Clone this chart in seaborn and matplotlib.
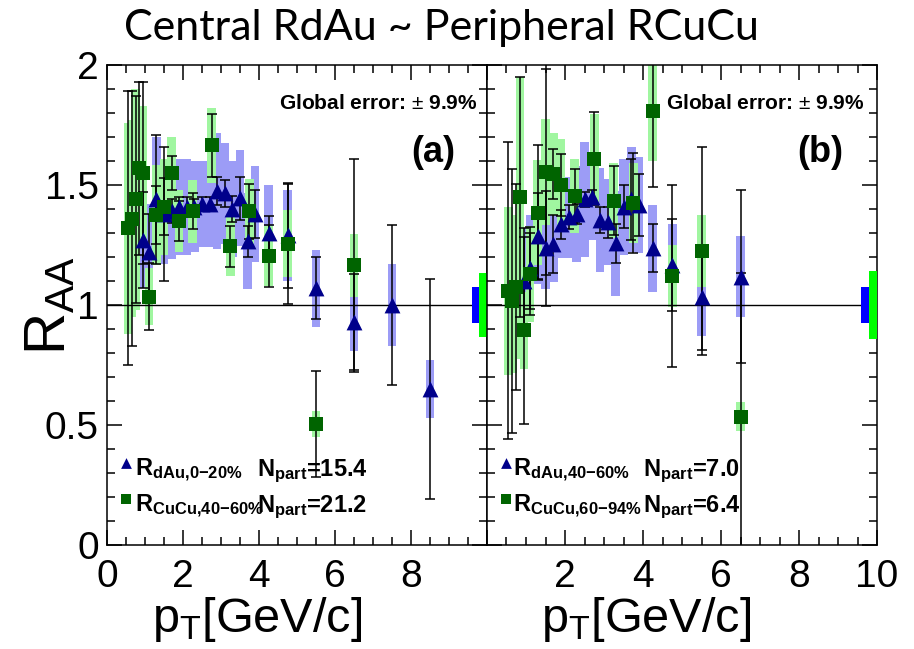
import numpy as np
import pandas as pd
import matplotlib
matplotlib.use("Agg")
import matplotlib.pyplot as plt
import seaborn as sns
from matplotlib.ticker import MultipleLocator, FixedLocator

# ---------------- data ----------------
# Panel (a): RdAu 0-20% (blue triangles)
a_dau_pt = [0.95, 1.1, 1.3, 1.5, 1.7, 1.9, 2.1, 2.3, 2.5, 2.7, 2.9, 3.1, 3.3, 3.5, 3.7, 3.9, 4.25, 4.75, 5.5, 6.5, 7.5, 8.5]
a_dau_r = [1.27, 1.22, 1.44, 1.38, 1.39, 1.41, 1.41, 1.41, 1.42, 1.42, 1.475, 1.465, 1.40, 1.445, 1.265, 1.38, 1.30, 1.29, 1.07, 0.93, 1.00, 0.65]
a_dau_stat = [0.20, 0.16, 0.27, 0.28, 0.05, 0.04, 0.04, 0.03, 0.03, 0.03, 0.06, 0.055, 0.055, 0.09, 0.065, 0.10, 0.07, 0.22, 0.13, 0.20, 0.335, 0.46]
a_dau_sys = [0.20, 0.20, 0.26, 0.21, 0.20, 0.20, 0.20, 0.19, 0.18, 0.18, 0.24, 0.21, 0.20, 0.20, 0.20, 0.20, 0.20, 0.19, 0.16, 0.12, 0.17, 0.12]
# Panel (a): RCuCu 40-60% (green squares)
a_cu_pt = [0.55, 0.65, 0.75, 0.85, 0.95, 1.1, 1.3, 1.5, 1.7, 1.9, 2.25, 2.75, 3.25, 3.75, 4.25, 4.75, 5.5, 6.5]
a_cu_r = [1.32, 1.36, 1.44, 1.57, 1.55, 1.035, 1.375, 1.41, 1.55, 1.35, 1.39, 1.665, 1.245, 1.39, 1.205, 1.255, 0.505, 1.165]
a_cu_stat = [0.57, 0.53, 0.43, 0.36, 0.38, 0.14, 0.12, 0.12, 0.07, 0.085, 0.075, 0.13, 0.085, 0.115, 0.13, 0.25, 0.22, 0.445]
a_cu_sys = [0.44, 0.41, 0.46, 0.26, 0.28, 0.12, 0.21, 0.20, 0.15, 0.13, 0.13, 0.155, 0.125, 0.135, 0.125, 0.14, 0.055, 0.13]

# Panel (b): RdAu 40-60%
b_dau_pt = [0.95, 1.1, 1.3, 1.5, 1.7, 1.9, 2.1, 2.3, 2.5, 2.7, 2.9, 3.1, 3.3, 3.5, 3.7, 3.9, 4.25, 4.75, 5.5, 6.5]
b_dau_r = [1.10, 1.155, 1.287, 1.236, 1.255, 1.337, 1.365, 1.379, 1.44, 1.45, 1.354, 1.345, 1.257, 1.41, 1.44, 1.417, 1.236, 1.167, 1.032, 1.118]
b_dau_stat = [0.22, 0.17, 0.18, 0.24, 0.12, 0.06, 0.05, 0.04, 0.03, 0.03, 0.055, 0.065, 0.08, 0.09, 0.17, 0.13, 0.10, 0.19, 0.22, 0.36]
b_dau_sys = [0.22, 0.22, 0.20, 0.17, 0.16, 0.14, 0.17, 0.20, 0.24, 0.18, 0.215, 0.18, 0.22, 0.20, 0.22, 0.20, 0.18, 0.17, 0.16, 0.17]
# Panel (b): RCuCu 60-94%
b_cu_pt = [0.55, 0.65, 0.75, 0.85, 0.95, 1.1, 1.3, 1.5, 1.7, 1.9, 2.25, 2.75, 3.25, 3.75, 4.25, 4.75, 5.5, 6.5]
b_cu_r = [1.06, 1.015, 1.075, 1.45, 0.895, 1.13, 1.385, 1.555, 1.545, 1.50, 1.455, 1.61, 1.435, 1.425, 1.81, 1.12, 1.225, 0.535]
b_cu_stat = [0.62, 0.55, 0.43, 0.50, 0.39, 0.17, 0.28, 0.43, 0.105, 0.13, 0.11, 0.195, 0.145, 0.21, 0.32, 0.38, 0.435, 0.60]
b_cu_sys = [0.35, 0.30, 0.30, 0.50, 0.16, 0.20, 0.22, 0.22, 0.17, 0.19, 0.155, 0.185, 0.155, 0.165, 0.21, 0.13, 0.15, 0.06]

# global normalisation errors (blue = dAu, green = CuCu)
a_global = [0.073, 0.135]
b_global = [0.073, 0.14]

title_text = "Central RdAu ~ Peripheral RCuCu"
global_text = "Global error: $\\pm$ 9.9%"
a_labels = [r"$\mathbf{R}_{\mathbf{dAu{,}0{-}20\%}}$", r"$\mathbf{R}_{\mathbf{CuCu{,}40{-}60\%}}$"]
a_npart = [r"$\mathbf{N}_{\mathbf{part}}$=15.4", r"$\mathbf{N}_{\mathbf{part}}$=21.2"]
b_labels = [r"$\mathbf{R}_{\mathbf{dAu{,}40{-}60\%}}$", r"$\mathbf{R}_{\mathbf{CuCu{,}60{-}94\%}}$"]
b_npart = [r"$\mathbf{N}_{\mathbf{part}}$=7.0", r"$\mathbf{N}_{\mathbf{part}}$=6.4"]

# ---------------- style ----------------
sns.set_theme(style="ticks")
plt.rcParams["font.family"] = ["Liberation Sans", "DejaVu Sans"]
plt.rcParams["mathtext.fontset"] = "custom"
plt.rcParams["mathtext.rm"] = "Liberation Sans"
plt.rcParams["mathtext.bf"] = "Liberation Sans:bold"
plt.rcParams["mathtext.it"] = "Liberation Sans:italic"
plt.rcParams["mathtext.sf"] = "Liberation Sans"
plt.rcParams["text.color"] = "black"
plt.rcParams["xtick.color"] = "black"
plt.rcParams["ytick.color"] = "black"
plt.rcParams["xtick.labelcolor"] = "black"
plt.rcParams["ytick.labelcolor"] = "black"
plt.rcParams["axes.labelcolor"] = "black"

TRI = "#00008b"
SQ = "#006400"
BOX_BLUE = "#9c9cf6"
BOX_GREEN = "#a0f6a0"

fig = plt.figure(figsize=(9.14, 6.49), dpi=100)
W, H = 914, 649
axA = fig.add_axes([107 / W, 104 / H, 380 / W, 480 / H])
axB = fig.add_axes([487 / W, 104 / H, 390 / W, 480 / H])


def draw_panel(ax, dpt, dr, dst, dsy, cpt, cr, cst, csy, glob):
    dpt, dr, dst, dsy = map(np.asarray, (dpt, dr, dst, dsy))
    cpt, cr, cst, csy = map(np.asarray, (cpt, cr, cst, csy))
    ax.bar(dpt, 2 * dsy, bottom=dr - dsy, width=0.22, color=BOX_BLUE, linewidth=0, zorder=1)
    ax.bar(cpt, 2 * csy, bottom=cr - csy, width=0.22, color=BOX_GREEN, linewidth=0, zorder=2)
    ax.axhline(1, color="black", lw=1.0, zorder=3)
    ax.errorbar(dpt, dr, yerr=dst, fmt="none", ecolor="black", elinewidth=1.1,
                capsize=3.5, capthick=1.1, zorder=4)
    ax.errorbar(cpt, cr, yerr=cst, fmt="none", ecolor="black", elinewidth=1.1,
                capsize=3.5, capthick=1.1, zorder=4)
    sns.scatterplot(x=dpt, y=dr, marker="^", s=130, color=TRI, edgecolor=TRI,
                    linewidth=0, ax=ax, zorder=5)
    sns.scatterplot(x=cpt, y=cr, marker="s", s=110, color=SQ, edgecolor=SQ,
                    linewidth=0, ax=ax, zorder=6)
    # global error boxes
    ax.bar([9.7], [2 * glob[0]], bottom=1 - glob[0], width=0.2, color="#0000ff", linewidth=0, zorder=3)
    ax.bar([9.9], [2 * glob[1]], bottom=1 - glob[1], width=0.2, color="#00ff00", linewidth=0, zorder=3)

    ax.set_xlim(0, 10)
    ax.set_ylim(0, 2)
    ax.xaxis.set_minor_locator(MultipleLocator(0.5))
    ax.yaxis.set_minor_locator(MultipleLocator(0.1))
    ax.yaxis.set_major_locator(MultipleLocator(0.5))
    ax.tick_params(which="both", direction="in", top=True, right=True, width=1.1, colors="black")
    ax.tick_params(which="major", length=11)
    ax.tick_params(which="minor", length=5.5)
    ax.tick_params(axis="x", labelsize=28, pad=10)
    ax.tick_params(axis="y", labelsize=28, pad=6)
    for sp in ax.spines.values():
        sp.set_visible(True)
        sp.set_color("black")
        sp.set_linewidth(1.1)
    ax.set_xlabel("")
    ax.set_ylabel("")
    ax.set_facecolor("white")


draw_panel(axA, a_dau_pt, a_dau_r, a_dau_stat, a_dau_sys, a_cu_pt, a_cu_r, a_cu_stat, a_cu_sys, a_global)
draw_panel(axB, b_dau_pt, b_dau_r, b_dau_stat, b_dau_sys, b_cu_pt, b_cu_r, b_cu_stat, b_cu_sys, b_global)

axA.xaxis.set_major_locator(FixedLocator([0, 2, 4, 6, 8, 10]))
axA.set_xticklabels(["0", "2", "4", "6", "8", ""])
axA.yaxis.set_major_locator(FixedLocator([0, 0.5, 1, 1.5, 2]))
axA.set_yticklabels(["0", "0.5", "1", "1.5", "2"])
axB.xaxis.set_major_locator(FixedLocator([0, 2, 4, 6, 8, 10]))
axB.set_xticklabels(["", "2", "4", "6", "8", "10"])
axB.yaxis.set_major_locator(FixedLocator([0, 0.5, 1, 1.5, 2]))
axB.set_yticklabels([])

# panel annotations
for ax, tag, xg, xt in ((axA, "(a)", 9.76, 9.16), (axB, "(b)", 9.67, 9.13)):
    ax.text(xg, 1.84, global_text, ha="right", va="center", fontsize=15, fontweight="bold", zorder=7)
    ax.text(xt, 1.6375, tag, ha="right", va="center", fontsize=26, fontweight="bold", zorder=7)

# legends
for ax, labels, nparts, xm, xr, xn in ((axA, a_labels, a_npart, 0.5, 0.74, 3.94),
                                       (axB, b_labels, b_npart, 0.49, 0.67, 4.0)):
    ax.scatter([xm], [0.34], marker="^", s=60, color=TRI, linewidth=0, zorder=7)
    ax.scatter([xm], [0.19], marker="s", s=55, color=SQ, linewidth=0, zorder=7)
    ax.text(xr, 0.2875, labels[0], fontsize=17, ha="left", va="baseline", zorder=7)
    ax.text(xr, 0.1375, labels[1], fontsize=17, ha="left", va="baseline", zorder=7)
    ax.text(xn, 0.2875, nparts[0], fontsize=17, fontweight="bold", ha="left", va="baseline", zorder=7)
    ax.text(xn, 0.1375, nparts[1], fontsize=17, fontweight="bold", ha="left", va="baseline", zorder=7)

# axis titles
fig.text(50 / W, 1 - 305 / H, r"$\mathrm{R}_{\mathrm{AA}}$", rotation=90, fontsize=42,
         ha="center", va="center")
fig.text(257 / W, 1 - 620 / H, r"$\mathrm{p}_{\mathrm{T}}$[GeV/c]", fontsize=35, ha="center", va="center")
fig.text(646 / W, 1 - 620 / H, r"$\mathrm{p}_{\mathrm{T}}$[GeV/c]", fontsize=35, ha="center", va="center")

# slide title
fig.text(441 / W, 1 - 28 / H, title_text, fontsize=31, ha="center", va="center",
         family=["Lato", "DejaVu Sans"])

fig.savefig("out.png", dpi=100, facecolor="white")
